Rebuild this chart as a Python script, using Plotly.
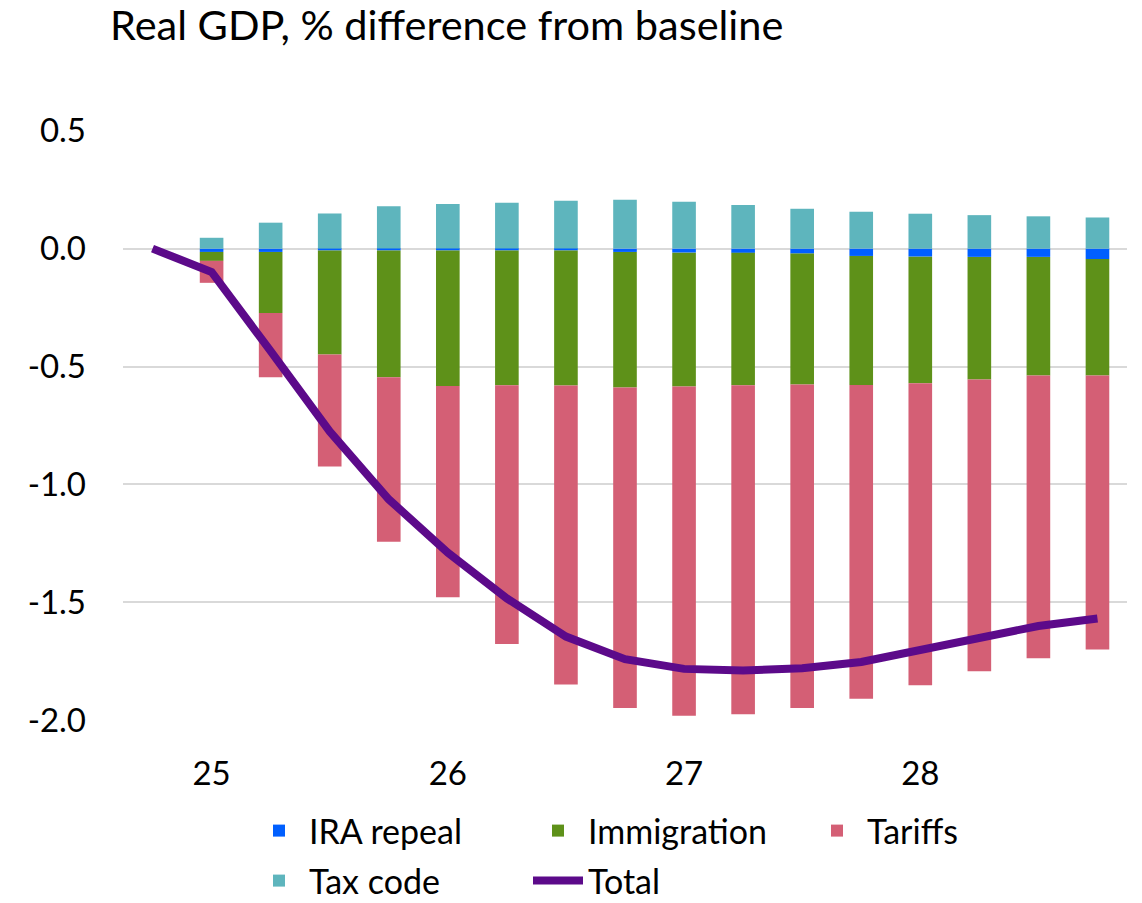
import plotly.graph_objects as go

# Quarters from 2024Q4 through 2028Q4; bars start in 2025Q1
quarters = ["24Q4", "25Q1", "25Q2", "25Q3", "25Q4", "26Q1", "26Q2", "26Q3", "26Q4",
            "27Q1", "27Q2", "27Q3", "27Q4", "28Q1", "28Q2", "28Q3", "28Q4"]
year_ticks = ["25Q1", "26Q1", "27Q1", "28Q1"]
year_labels = ["25", "26", "27", "28"]

# Contributions to real GDP, % difference from baseline (2025Q1 .. 2028Q4)
ira_repeal = [-0.014, -0.014, -0.008, -0.008, -0.008, -0.008, -0.008, -0.014,
              -0.017, -0.018, -0.021, -0.031, -0.034, -0.035, -0.035, -0.044]
immigration = [-0.038, -0.259, -0.441, -0.537, -0.575, -0.571, -0.572, -0.575,
               -0.568, -0.561, -0.555, -0.547, -0.537, -0.520, -0.503, -0.494]
tariffs = [-0.093, -0.272, -0.475, -0.698, -0.895, -1.098, -1.268, -1.359,
           -1.396, -1.395, -1.372, -1.331, -1.280, -1.237, -1.199, -1.162]
tax_code = [0.046, 0.110, 0.149, 0.180, 0.189, 0.194, 0.203, 0.207,
            0.199, 0.185, 0.169, 0.156, 0.148, 0.142, 0.137, 0.132]
# Total effect, starting from zero in 2024Q4
total = [0.0, -0.099, -0.435, -0.775, -1.063, -1.289, -1.483, -1.645, -1.741,
         -1.782, -1.789, -1.779, -1.753, -1.703, -1.650, -1.600, -1.568]

FONT = "Lato"
pos = {q: i for i, q in enumerate(quarters)}
bar_x = [pos[q] for q in quarters[1:]]
line_x = [pos[q] for q in quarters]

fig = go.Figure()
series = [
    ("IRA repeal", ira_repeal, "#005fff", "legend"),
    ("Immigration", immigration, "#5e9119", "legend"),
    ("Tariffs", tariffs, "#d45f75", "legend"),
    ("Tax code", tax_code, "#5eb5bd", "legend2"),
]
for name, vals, color, leg in series:
    fig.add_trace(go.Bar(
        x=bar_x, y=vals, name=name, width=0.4, legend=leg,
        marker=dict(color=color, line=dict(width=0)),
    ))

fig.add_trace(go.Scatter(
    x=line_x, y=total, name="Total", mode="lines", legend="legend2",
    line=dict(color="#5c0a8a", width=8),
))

legend_style = dict(
    orientation="h",
    xref="container", yref="container",
    x=249 / 1142, xanchor="left", yanchor="top",
    entrywidth=214,
    itemwidth=50,
    font=dict(family=FONT, size=34, color="#000000"),
    bgcolor="rgba(0,0,0,0)",
    traceorder="normal",
)

fig.update_layout(
    width=1142, height=903,
    barmode="relative",
    paper_bgcolor="white", plot_bgcolor="white",
    margin=dict(l=123, r=15, t=130, b=182, autoexpand=False),
    font=dict(family=FONT, color="#000000", size=33),
    title=dict(
        text="Real GDP, % difference from baseline",
        x=110 / 1142, xanchor="left", xref="container",
        y=1 - 25 / 903, yanchor="middle", yref="container",
        font=dict(family=FONT, size=41.5, color="#000000"),
    ),
    xaxis=dict(
        range=[-0.5, 16.5],
        tickvals=[pos[q] for q in year_ticks], ticktext=year_labels,
        showgrid=False, zeroline=False, showline=False, ticks="",
        ticklabelstandoff=30,
        tickfont=dict(family=FONT, size=33),
    ),
    yaxis=dict(
        range=[-2.003, 0.503],
        tickvals=[0.5, 0.0, -0.5, -1.0, -1.5, -2.0],
        ticktext=["0.5", "0.0", "-0.5", "-1.0", "-1.5", "-2.0"],
        showgrid=True, gridcolor="#d9d9d9", gridwidth=2,
        zeroline=True, zerolinecolor="#d9d9d9", zerolinewidth=2,
        showline=False, ticks="",
        ticklabelstandoff=36,
        tickfont=dict(family=FONT, size=33),
    ),
    legend=dict(y=1 - 802 / 903, **legend_style),
    legend2=dict(y=1 - 852 / 903, **legend_style),
    showlegend=True,
)

fig.write_html("out.html")
